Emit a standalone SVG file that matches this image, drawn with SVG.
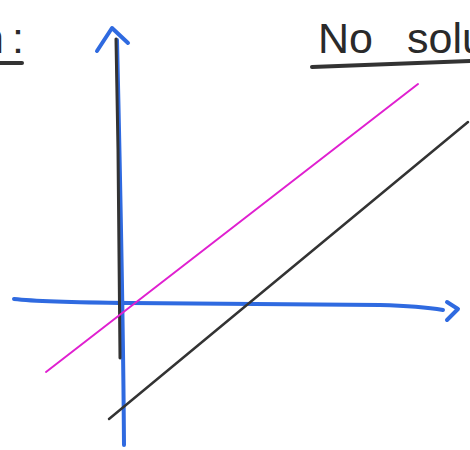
<svg xmlns="http://www.w3.org/2000/svg" width="470" height="450" viewBox="0 0 470 450">
  <style>
    .blue { stroke: #2f6ae0; stroke-width: 4; fill: none; stroke-linecap: round; stroke-linejoin: round; }
    .ink { stroke: #333333; fill: none; stroke-linecap: round; stroke-linejoin: round; }
    .mag { stroke: #e020d0; stroke-width: 2; fill: none; stroke-linecap: round; }
    .txt { font-family: "Liberation Sans", "DejaVu Sans", sans-serif; font-size: 43px; fill: #2a2a2a; }
  </style>
  <rect width="470" height="450" fill="#ffffff"/>
  <g id="title">
    <text class="txt" x="-20" y="53">n<tspan dx="8">:</tspan></text>
    <line class="ink" x1="0" y1="63" x2="22" y2="63" stroke-width="4"/>
    <text class="txt" x="318" y="53">No</text>
    <text class="txt" x="407" y="53">solu</text>
    <path class="ink" d="M312 67 Q390 64 470 61" stroke-width="4"/>
  </g>
  <g id="axes">
    <path id="y-axis" class="blue" d="M124 445 Q123 300 117 40"/>
    <path id="y-arrow" class="blue" d="M97 51 L112 28 L128 43"/>
    <path id="x-axis" class="blue" d="M14 299 Q40 302 130 303 L380 305 Q420 306 443 310"/>
    <path id="x-arrow" class="blue" d="M447 302 L458 309 L447 320"/>
  </g>
  <g id="lines">
    <path id="vertical-line" class="ink" stroke-width="3" d="M116 39 L118 150 L120 358"/>
    <line id="magenta-line" class="mag" x1="46" y1="372" x2="418" y2="84"/>
    <line id="black-line" class="ink" stroke-width="2.5" x1="109" y1="419" x2="468" y2="122"/>
  </g>
</svg>
